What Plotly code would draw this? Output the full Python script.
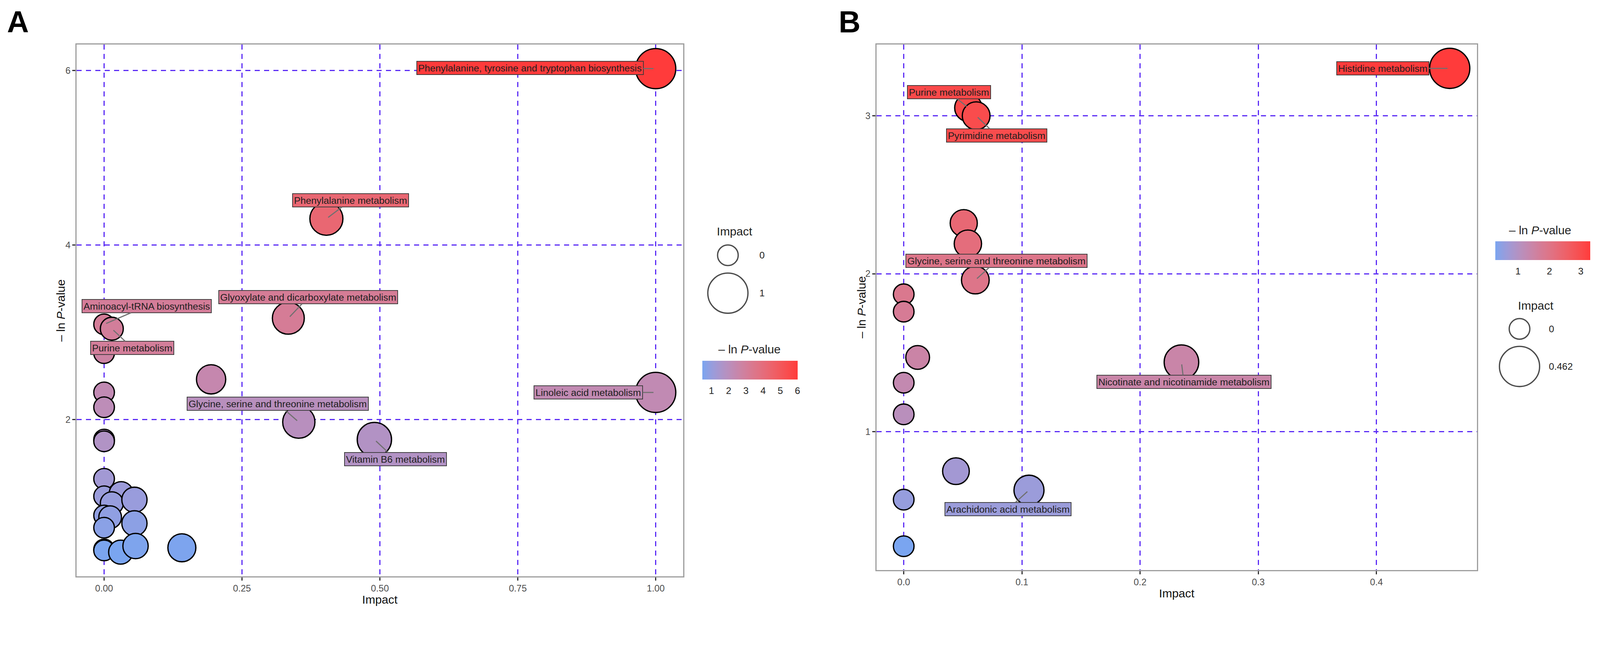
import numpy as np
import plotly.graph_objects as go

# Reference frame (pixels of the photographed picture)
RW, RH = 4335, 1675
S = 1.06                      # page pixels -> picture pixels
W, H = RW / S, RH / S         # figure size in page pixels
FONT = "Liberation Sans, Arial, sans-serif"


def s(v):
    """convert a picture-pixel length into page pixels"""
    return v / S


# ---------------- Panel A data ----------------
a_impact = [1.00, 0.403, 0.334, 0.000, 0.014, 0.000, 0.194, 0.000, 1.000, 0.000,
            0.353, 0.490, 0.000, 0.000, 0.000, 0.000, 0.031, 0.014, 0.055, 0.000,
            0.011, 0.000, 0.055, 0.000, 0.000, 0.030, 0.057, 0.141]
a_lnp = [6.02, 4.30, 3.16, 3.09, 3.04, 2.76, 2.46, 2.31, 2.31, 2.14,
         1.97, 1.77, 1.77, 1.75, 1.32, 1.12, 1.15, 1.04, 1.08, 0.90,
         0.88, 0.76, 0.81, 0.51, 0.50, 0.48, 0.55, 0.53]
a_labels = {0: "Phenylalanine, tyrosine and tryptophan biosynthesis",
            1: "Phenylalanine metabolism",
            2: "Glyoxylate and dicarboxylate metabolism",
            3: "Aminoacyl-tRNA biosynthesis",
            4: "Purine metabolism",
            8: "Linoleic acid metabolism",
            10: "Glycine, serine and threonine metabolism",
            11: "Vitamin B6 metabolism"}
a_xticks = [0, 0.25, 0.5, 0.75, 1.0]
a_xticktext = ["0.00", "0.25", "0.50", "0.75", "1.00"]
a_yticks = [2, 4, 6]
a_cbar_ticks = [1, 2, 3, 4, 5, 6]
a_size_breaks = [0, 1]
a_size_text = ["0", "1"]

# ---------------- Panel B data ----------------
b_impact = [0.462, 0.0547, 0.0613, 0.0508, 0.0543, 0.0606, 0.000, 0.000,
            0.0118, 0.235, 0.000, 0.000, 0.0442, 0.106, 0.000, 0.000]
b_lnp = [3.30, 3.05, 3.00, 2.32, 2.19, 1.96, 1.87, 1.76,
         1.47, 1.44, 1.31, 1.11, 0.75, 0.63, 0.57, 0.275]
b_labels = {0: "Histidine metabolism",
            1: "Purine metabolism",
            2: "Pyrimidine metabolism",
            5: "Glycine, serine and threonine metabolism",
            9: "Nicotinate and nicotinamide metabolism",
            13: "Arachidonic acid metabolism"}
b_xticks = [0, 0.1, 0.2, 0.3, 0.4]
b_xticktext = ["0.0", "0.1", "0.2", "0.3", "0.4"]
b_yticks = [1, 2, 3]
b_cbar_ticks = [1, 2, 3]
b_size_breaks = [0, 0.462]
b_size_text = ["0", "0.462"]

# ---------------- label placement (layout, data units) ----------------
a_label_pos = {0: (0.772, 6.03), 1: (0.447, 4.51), 2: (0.370, 3.40), 3: (0.077, 3.30),
               4: (0.051, 2.82), 8: (0.878, 2.31), 10: (0.315, 2.18), 11: (0.528, 1.545)}
b_label_pos = {0: (0.4053, 3.30), 1: (0.0384, 3.149), 2: (0.0787, 2.875),
               5: (0.0785, 2.082), 9: (0.237, 1.316), 13: (0.0884, 0.511)}

# ---------------- colour scale (Lab interpolation like ggplot) ----------------
LOW, HIGH = "#7AA5F0", "#FF3B3B"


def _hex2rgb(h):
    h = h.lstrip("#")
    return [int(h[i:i + 2], 16) / 255 for i in (0, 2, 4)]


def _rgb2lab(rgb):
    lin = [c / 12.92 if c <= 0.04045 else ((c + 0.055) / 1.055) ** 2.4 for c in rgb]
    M = np.array([[0.4124, 0.3576, 0.1805], [0.2126, 0.7152, 0.0722], [0.0193, 0.1192, 0.9505]])
    X, Y, Z = M @ np.array(lin) / np.array([0.95047, 1.0, 1.08883])
    f = lambda t: t ** (1 / 3) if t > (6 / 29) ** 3 else t / (3 * (6 / 29) ** 2) + 4 / 29
    return np.array([116 * f(Y) - 16, 500 * (f(X) - f(Y)), 200 * (f(Y) - f(Z))])


def _lab2hex(lab):
    L, a, b = lab
    fy = (L + 16) / 116
    fx = fy + a / 500
    fz = fy - b / 200
    finv = lambda t: t ** 3 if t > 6 / 29 else 3 * (6 / 29) ** 2 * (t - 4 / 29)
    xyz = np.array([finv(fx), finv(fy), finv(fz)]) * np.array([0.95047, 1.0, 1.08883])
    Mi = np.array([[3.2406, -1.5372, -0.4986], [-0.9689, 1.8758, 0.0415], [0.0557, -0.2040, 1.0570]])
    lin = Mi @ xyz
    out = []
    for c in lin:
        c = max(0.0, min(1.0, c))
        c = 12.92 * c if c <= 0.0031308 else 1.055 * c ** (1 / 2.4) - 0.055
        out.append(int(round(max(0, min(1, c)) * 255)))
    return "#%02x%02x%02x" % tuple(out)


_lo, _hi = _rgb2lab(_hex2rgb(LOW)), _rgb2lab(_hex2rgb(HIGH))


def grad(t):
    t = max(0.0, min(1.0, t))
    return _lab2hex(_lo + (_hi - _lo) * t)


colorscale = [[i / 20, grad(i / 20)] for i in range(21)]


def bubble_size(v, vmax, dmin=56, dmax=109):
    return s(dmin + (dmax - dmin) * np.sqrt(np.asarray(v, dtype=float) / vmax))


def expand(vals, mult=0.05):
    lo, hi = min(vals), max(vals)
    r = hi - lo
    return [lo - mult * r, hi + mult * r]


def px(x, y):
    return x / RW, 1 - y / RH


GRID = "#5B2CF5"
BORDER = "#9E9E9E"

fig = go.Figure()

# colour-bar geometry in picture pixels: centre x, bar top y, length, thickness
panels = [
    dict(imp=a_impact, lnp=a_lnp, labels=a_labels, pos=a_label_pos, xa="x", ya="y",
         cbar_ticks=a_cbar_ticks, cbar_x=2035.5, cbar_top=980, cbar_len=259,
         cbar_title=(2033, 948)),
    dict(imp=b_impact, lnp=b_lnp, labels=b_labels, pos=b_label_pos, xa="x2", ya="y2",
         cbar_ticks=b_cbar_ticks, cbar_x=4186, cbar_top=655, cbar_len=258,
         cbar_title=(4179, 625)),
]

annotations = []
for p in panels:
    cmin, cmax = min(p["lnp"]), max(p["lnp"])
    vmax = max(p["imp"])
    cx, cy = px(p["cbar_x"], p["cbar_top"])
    fig.add_trace(go.Scatter(
        x=p["imp"], y=p["lnp"], mode="markers", xaxis=p["xa"], yaxis=p["ya"],
        showlegend=False, hoverinfo="skip",
        marker=dict(size=bubble_size(p["imp"], vmax), sizemode="diameter",
                    color=p["lnp"], colorscale=colorscale, cmin=cmin, cmax=cmax,
                    opacity=1, line=dict(color="black", width=s(3.5)),
                    colorbar=dict(orientation="h", x=cx, y=cy, xanchor="center", yanchor="top",
                                  len=s(p["cbar_len"]), lenmode="pixels", thickness=s(51),
                                  thicknessmode="pixels", xpad=0, ypad=0, outlinewidth=0,
                                  tickvals=p["cbar_ticks"], ticks="outside", ticklen=s(9),
                                  tickwidth=1, tickcolor="rgba(255,255,255,0)",
                                  tickfont=dict(family=FONT, size=s(26), color="#222222"))),
    ))
    tx, ty = px(*p["cbar_title"])
    annotations.append(dict(x=tx, y=ty, xref="paper", yref="paper", showarrow=False,
                            text="\u2013 ln <i>P</i>-value", xanchor="center", yanchor="middle",
                            font=dict(family=FONT, size=s(32), color="#222222")))
    for i, name in p["labels"].items():
        axv, ayv = p["pos"][i]
        annotations.append(dict(
            x=p["imp"][i], y=p["lnp"][i], xref=p["xa"], yref=p["ya"],
            ax=axv, ay=ayv, axref=p["xa"], ayref=p["ya"], text=name,
            showarrow=True, arrowhead=0, arrowwidth=s(3), arrowcolor="#707070", standoff=s(6),
            bgcolor=grad((p["lnp"][i] - cmin) / (cmax - cmin)), bordercolor="#3A3A3A",
            borderwidth=s(2), borderpad=s(3), font=dict(family=FONT, size=s(26.3), color="#1E1E1E")))

# size legends on an overlay axis measured in picture pixels
leg = [
    dict(breaks=a_size_breaks, text=a_size_text, vmax=max(a_impact), cx=1975, ys=[693, 796],
         lab_x=2058, title=(1943, 628)),
    dict(breaks=b_size_breaks, text=b_size_text, vmax=max(b_impact), cx=4123, ys=[893, 995],
         lab_x=4200, title=(4117, 830)),
]
for L in leg:
    fig.add_trace(go.Scatter(
        x=[L["cx"]] * len(L["breaks"]), y=L["ys"], mode="markers", xaxis="x3", yaxis="y3",
        showlegend=False, hoverinfo="skip",
        marker=dict(size=bubble_size(L["breaks"], L["vmax"]), color="rgba(0,0,0,0)",
                    line=dict(color="black", width=s(3.5)))))
    for yy, t in zip(L["ys"], L["text"]):
        annotations.append(dict(x=L["lab_x"], y=yy, xref="x3", yref="y3", text=t, showarrow=False,
                                xanchor="left", yanchor="middle",
                                font=dict(family=FONT, size=s(26), color="#222222")))
    annotations.append(dict(x=L["title"][0], y=L["title"][1], xref="x3", yref="y3", text="Impact",
                            showarrow=False, xanchor="left", yanchor="middle",
                            font=dict(family=FONT, size=s(32), color="#222222")))

# axis titles and panel letters
for (x, y, t, ang) in [(1031, 1628, "Impact", 0), (3193, 1611, "Impact", 0),
                       (164, 843, "\u2013 ln <i>P</i>-value", -90),
                       (2338, 834, "\u2013 ln <i>P</i>-value", -90)]:
    xx, yy = px(x, y)
    annotations.append(dict(x=xx, y=yy, xref="paper", yref="paper", text=t, textangle=ang,
                            showarrow=False, xanchor="center", yanchor="middle",
                            font=dict(family=FONT, size=s(32), color="#111111")))
for (x, y, t) in [(49, 59, "A"), (2305, 59, "B")]:
    xx, yy = px(x, y)
    annotations.append(dict(x=xx, y=yy, xref="paper", yref="paper", text="<b>%s</b>" % t,
                            showarrow=False, xanchor="center", yanchor="middle",
                            font=dict(family=FONT, size=s(82), color="#000000")))


def axis_style(**kw):
    d = dict(showgrid=True, gridcolor=GRID, griddash="%dpx,%dpx" % (s(14), s(12)),
             gridwidth=s(3.5), showline=True, mirror=True, linecolor=BORDER, linewidth=s(3),
             zeroline=False, ticks="outside", ticklen=s(8), tickwidth=s(3), tickcolor="#333333",
             tickfont=dict(family=FONT, size=s(25), color="#4D4D4D"), fixedrange=True)
    d.update(kw)
    return d


fig.update_layout(
    width=W, height=H, margin=dict(l=0, r=0, t=0, b=0, pad=0), autosize=False,
    paper_bgcolor="white", plot_bgcolor="rgba(0,0,0,0)", showlegend=False,
    xaxis=axis_style(domain=[207.6 / RW, 1854 / RW], range=expand(a_impact), anchor="y",
                     tickvals=a_xticks, ticktext=a_xticktext),
    yaxis=axis_style(domain=[1 - 1564.8 / RH, 1 - 120.7 / RH], range=expand(a_lnp), anchor="x",
                     tickvals=a_yticks),
    xaxis2=axis_style(domain=[2378 / RW, 4007.7 / RW], range=expand(b_impact), anchor="y2",
                      tickvals=b_xticks, ticktext=b_xticktext),
    yaxis2=axis_style(domain=[1 - 1548 / RH, 1 - 120.7 / RH], range=expand(b_lnp), anchor="x2",
                      tickvals=b_yticks),
    xaxis3=dict(domain=[0, 1], range=[0, RW], visible=False, fixedrange=True, anchor="y3"),
    yaxis3=dict(domain=[0, 1], range=[RH, 0], visible=False, fixedrange=True, anchor="x3"),
    annotations=annotations,
)

fig.write_html("out.html", config={"displayModeBar": False},
               post_script="document.body.style.margin='0';document.body.style.overflow='hidden';")
